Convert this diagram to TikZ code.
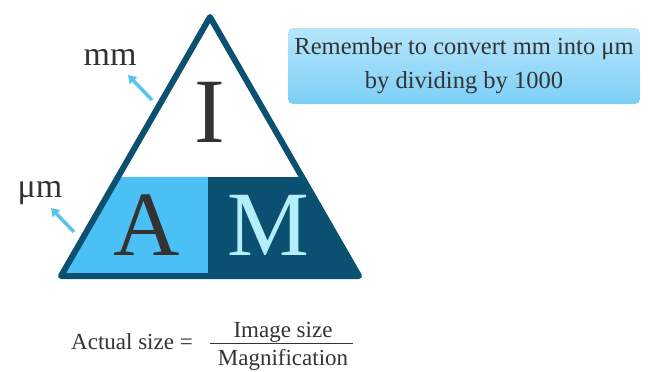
\documentclass[tikz,border=0pt]{standalone}
\usepackage{fontspec}
\setmainfont{Liberation Serif}
\usetikzlibrary{arrows.meta,positioning,calc}
\definecolor{navy}{HTML}{0B4F71}
\definecolor{sky}{HTML}{4AC0F5}
\definecolor{ice}{HTML}{B3EEFB}
\definecolor{ink}{HTML}{333333}
\definecolor{boxtop}{HTML}{B6E6FB}
\definecolor{boxbot}{HTML}{7CCFF7}
\definecolor{pointer}{HTML}{5BC4EE}
\tikzset{
  letter/.style={font=\fontsize{92}{92}\selectfont,inner sep=0pt,anchor=base,text=ink},
  unit/.style={font=\fontsize{34}{34}\selectfont,inner sep=0pt,anchor=base,text=ink},
  formula/.style={font=\fontsize{23}{23}\selectfont,inner sep=0pt,anchor=base,text=ink},
  hint/.style={font=\fontsize{24.5}{34}\selectfont,align=center,text=ink,rounded corners=5pt,
    top color=boxtop,bottom color=boxbot,minimum width=352pt,minimum height=76pt,inner sep=0pt},
  pointy/.style={-{Triangle[length=8pt,width=10pt]},line width=3.5pt,draw=pointer},
  rim/.style={draw=navy,line width=6pt,line join=round}
}
\begin{document}
\begin{tikzpicture}[x=1pt,y=-1pt]
\useasboundingbox (0,0) rectangle (651,372);
% lower half of the triangle
\fill[sky] (118,177) -- (208,177) -- (208,276) -- (61,276) -- cycle;
\fill[navy] (208,177) -- (302,177) -- (359,276) -- (208,276) -- cycle;
\draw[rim] (210,17) -- (359,276) -- (61,276) -- cycle;

\node[letter] (image) at (210,142) {I};
\node[letter] (actual) at (147,255) {A};
\node[letter,text=ice] (magn) at (268,255) {M};

% units
\node[unit] (mm) at (110,65) {mm};
\node[unit] (um) at (40,197) {μm};
\coordinate (mmfoot) at (152,100);
\coordinate (mmtip) at (128,75);
\coordinate (umfoot) at (74,232);
\coordinate (umtip) at (51,208);
\draw[pointy] (mmfoot) -- (mmtip);
\draw[pointy] (umfoot) -- (umtip);

\node[hint] (note) at (464,66) {Remember to convert mm into μm\\by dividing by 1000};

% formula
\node[formula] (lhs) at (132,349) {Actual size =};
\node[formula] (num) at (283,337) {Image size};
\node[formula] (den) at (283,365) {Magnification};
\coordinate (barl) at (210,343);
\coordinate (barr) at (353,343);
\draw[line width=1pt,draw=ink] (barl) -- (barr);
\end{tikzpicture}
\end{document}
